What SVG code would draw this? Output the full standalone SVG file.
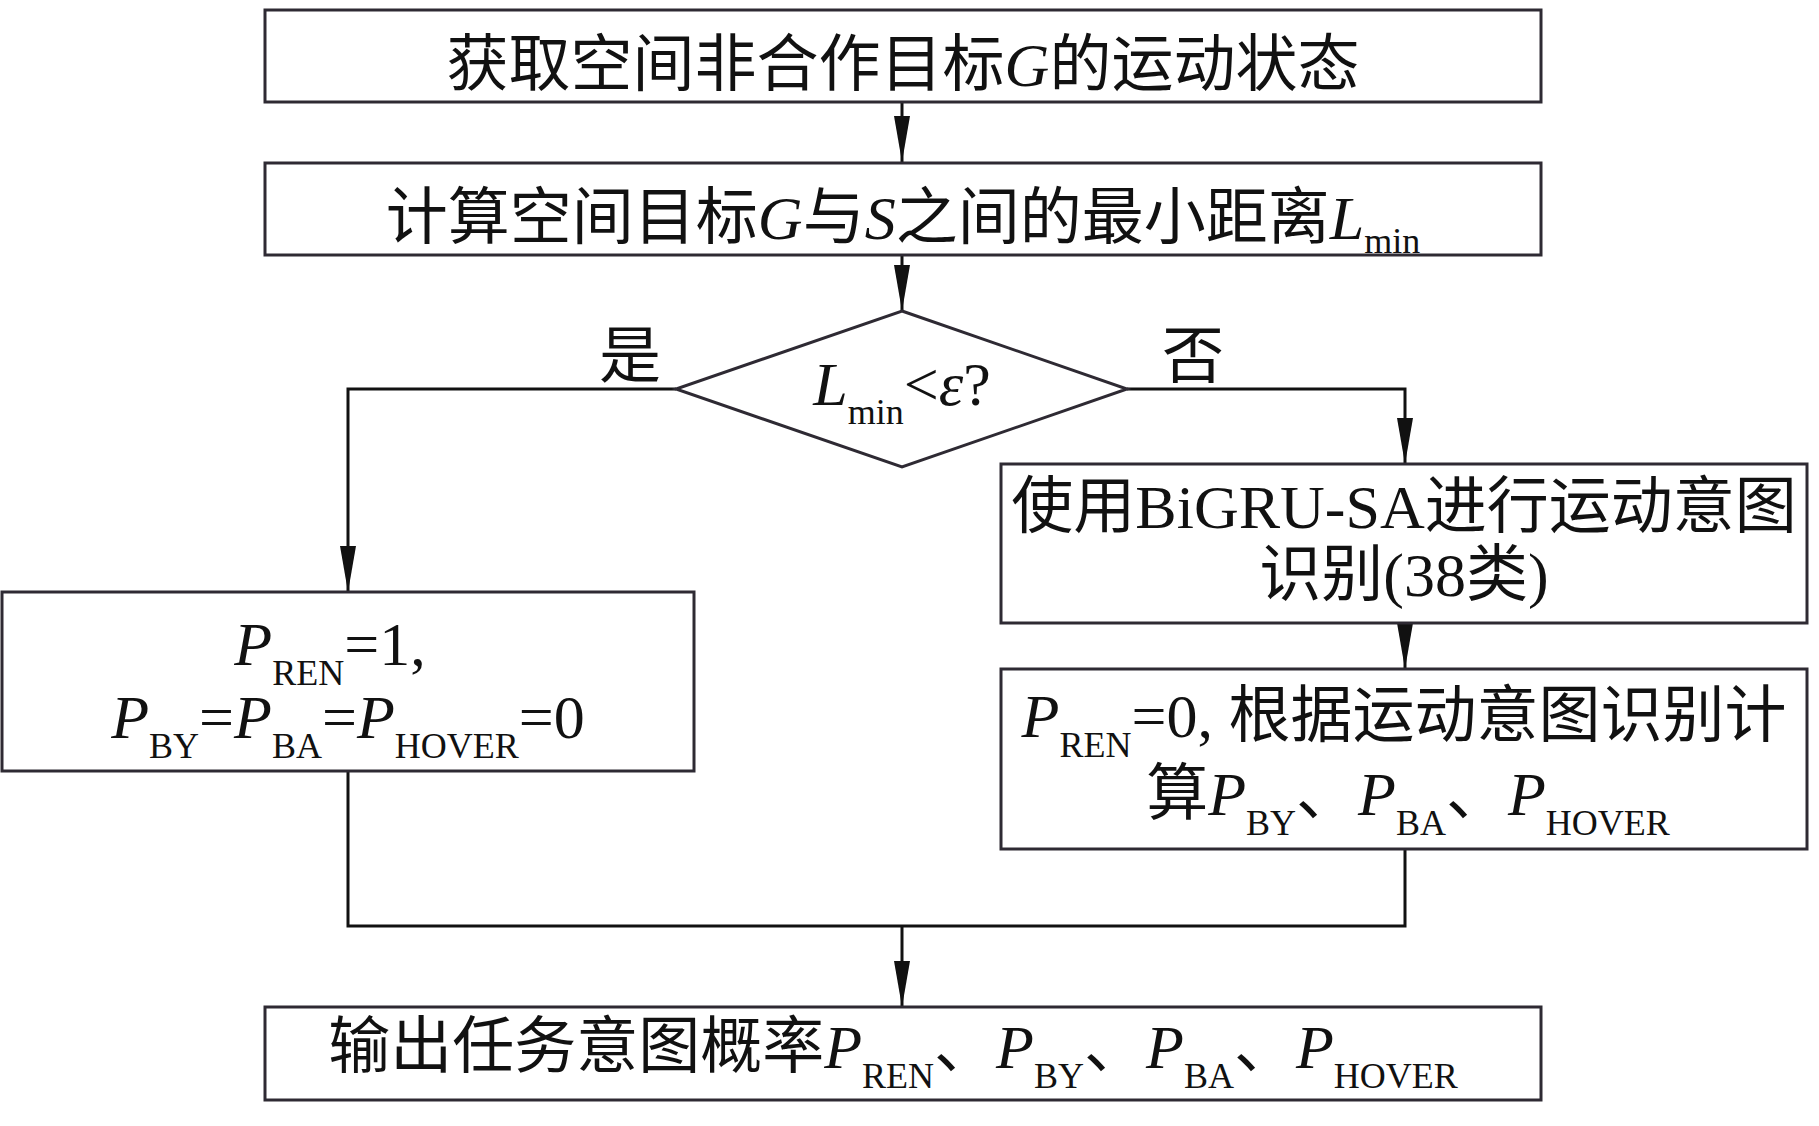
<svg xmlns="http://www.w3.org/2000/svg" width="1819" height="1126" viewBox="0 0 1819 1126">
<style>
.box{fill:#fff;stroke:#2e2a33;stroke-width:3}
.ln{fill:none;stroke:#111;stroke-width:3}
.t{font-family:"Liberation Serif","Noto Sans CJK SC",serif;font-size:62px;fill:#111}
.i{font-style:italic}
.s{font-size:36px}
</style>
<defs>
<marker id="ah" markerUnits="userSpaceOnUse" viewBox="0 -8 46 16" markerWidth="46" markerHeight="16" refX="46" refY="0" orient="auto">
<path d="M0,-8 L46,0 L0,8 z" fill="#111"/>
</marker>
</defs>
<rect width="1819" height="1126" fill="#fff"/>
<g id="connectors">
<path class="ln" d="M902,102 V162" marker-end="url(#ah)"/>
<path class="ln" d="M902,255 V311" marker-end="url(#ah)"/>
<path class="ln" d="M676,389 H348 V592" marker-end="url(#ah)"/>
<path class="ln" d="M1127,389 H1405 V464" marker-end="url(#ah)"/>
<path class="ln" d="M1405,623 V669" marker-end="url(#ah)"/>
<path class="ln" d="M348,771 V926 H1405 V849"/>
<path class="ln" d="M902,926 V1007" marker-end="url(#ah)"/>
<text class="t" x="630" y="378" text-anchor="middle">是</text>
<text class="t" x="1193" y="378" text-anchor="middle">否</text>
</g>
<g id="n1">
<rect class="box" x="265" y="10" width="1276" height="92"/>
<text class="t" x="903" y="86" text-anchor="middle">获取空间非合作目标<tspan class="i">G</tspan>的运动状态</text>
</g>
<g id="n2">
<rect class="box" x="265" y="163" width="1276" height="92"/>
<text class="t" x="903" y="239" text-anchor="middle">计算空间目标<tspan class="i">G</tspan>与<tspan class="i">S</tspan>之间的最小距离<tspan class="i">L</tspan><tspan class="s" dy="14">min</tspan></text>
</g>
<g id="n3">
<polygon class="box" points="902,311 1127,389 902,467 676,389"/>
<text class="t" x="902" y="405" text-anchor="middle"><tspan class="i">L</tspan><tspan class="s" dy="19">min</tspan><tspan dy="-19">&lt;</tspan><tspan class="i">ε</tspan>?</text>
</g>
<g id="n4">
<rect class="box" x="2" y="592" width="692" height="179"/>
<text class="t" x="330" y="665" text-anchor="middle"><tspan class="i">P</tspan><tspan class="s" dy="20">REN</tspan><tspan dy="-20">=1,</tspan></text>
<text class="t" x="348" y="738" text-anchor="middle"><tspan class="i">P</tspan><tspan class="s" dy="20">BY</tspan><tspan dy="-20">=</tspan><tspan class="i">P</tspan><tspan class="s" dy="20">BA</tspan><tspan dy="-20">=</tspan><tspan class="i">P</tspan><tspan class="s" dy="20">HOVER</tspan><tspan dy="-20">=0</tspan></text>
</g>
<g id="n5">
<rect class="box" x="1001" y="464" width="806" height="159"/>
<text class="t" x="1404" y="528" text-anchor="middle">使用BiGRU-SA进行运动意图</text>
<text class="t" x="1404" y="596" text-anchor="middle">识别(38类)</text>
</g>
<g id="n6">
<rect class="box" x="1001" y="669" width="806" height="180"/>
<text class="t" x="1404" y="737" text-anchor="middle"><tspan class="i">P</tspan><tspan class="s" dy="20">REN</tspan><tspan dy="-20">=0, 根据运动意图识别计</tspan></text>
<text class="t" x="1408" y="815" text-anchor="middle">算<tspan class="i">P</tspan><tspan class="s" dy="20">BY</tspan><tspan dy="-20">、</tspan><tspan class="i">P</tspan><tspan class="s" dy="20">BA</tspan><tspan dy="-20">、</tspan><tspan class="i">P</tspan><tspan class="s" dy="20">HOVER</tspan></text>
</g>
<g id="n7">
<rect class="box" x="265" y="1007" width="1276" height="93"/>
<text class="t" x="893" y="1068" text-anchor="middle">输出任务意图概率<tspan class="i">P</tspan><tspan class="s" dy="20">REN</tspan><tspan dy="-20">、</tspan><tspan class="i">P</tspan><tspan class="s" dy="20">BY</tspan><tspan dy="-20">、</tspan><tspan class="i">P</tspan><tspan class="s" dy="20">BA</tspan><tspan dy="-20">、</tspan><tspan class="i">P</tspan><tspan class="s" dy="20">HOVER</tspan></text>
</g>
</svg>
